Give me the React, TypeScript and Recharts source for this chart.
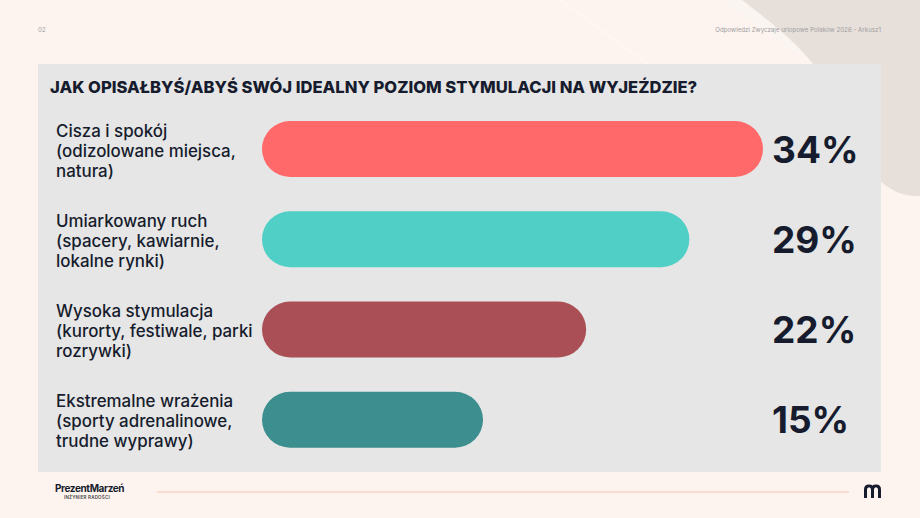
import React from "react";
import { BarChart, Bar, XAxis, YAxis, Cell, LabelList } from "recharts";

const categories = ["Cisza i spokój", "Umiarkowany ruch", "Wysoka stymulacja", "Ekstremalne wrażenia"];
const categoryDetails = [
  ["(odizolowane miejsca,", "natura)"],
  ["(spacery, kawiarnie,", "lokalne rynki)"],
  ["(kurorty, festiwale, parki", "rozrywki)"],
  ["(sporty adrenalinowe,", "trudne wyprawy)"],
];
const shares = [34, 29, 22, 15];
const barColors = ["#FF6969", "#4FCFC5", "#AA4F55", "#3C8E8F"];

const title = "JAK OPISAŁBYŚ/ABYŚ SWÓJ IDEALNY POZIOM STYMULACJI NA WYJEŹDZIE?";
const pageNo = "02";
const sourceNote = "Odpowiedzi Zwyczaje urlopowe Polaków 2026 - Arkusz1";

const INK = "#161C2D";
const FONT = "Inter, 'Noto Sans', sans-serif";

if (typeof document !== "undefined") document.body.style.margin = "0";

const data = categories.map((name, i) => ({ name, value: shares[i], idx: i }));

function CategoryTick(props: any) {
  const { y, payload } = props;
  const idx = categories.indexOf(payload.value);
  const lines = [payload.value, ...(categoryDetails[idx] || [])];
  return (
    <text x={56} y={y} fill={INK} fontFamily={FONT} fontSize={16.9} fontWeight={500}>
      {lines.map((line, i) => (
        <tspan key={i} x={56} y={y + (i - 1) * 20 + 1.5} dominantBaseline="central">
          {line}
        </tspan>
      ))}
    </text>
  );
}

function ShareLabel(props: any) {
  const { y, height, value } = props;
  return (
    <text
      x={772}
      y={y + height / 2}
      dominantBaseline="central"
      fill={INK}
      fontFamily={FONT}
      fontSize={37}
      fontWeight={700}
    >
      {value}%
    </text>
  );
}

export default function App() {
  return (
    <div style={{ position: "relative", width: 920, height: 518, background: "#FDF3EF", overflow: "hidden", fontFamily: FONT }}>
      <svg width={920} height={518} style={{ position: "absolute", left: 0, top: 0 }}>
        <path d="M560,0 L648,64" stroke="#FEF7F4" strokeWidth={2} fill="none" />
        <path d="M722,0 C760,28 790,50 815,64 L920,64 L920,0 Z" fill="#FBF5F2" />
        <path
          d="M742,0 C775,25 800,45 822,75 C848,115 862,165 885,185 C898,195 910,196 920,196 L920,0 Z"
          fill="#E7DFDA"
        />
        <line x1={157} y1={492} x2={849} y2={492} stroke="#F7D3C8" strokeWidth={1.5} />
      </svg>

      <div style={{ position: "absolute", left: 38, top: 26, fontSize: 6.2, color: "#A0A0A0" }}>{pageNo}</div>
      <div style={{ position: "absolute", right: 39, top: 26, fontSize: 6.2, color: "#A0A0A0" }}>{sourceNote}</div>

      <div style={{ position: "absolute", left: 38, top: 64, width: 843, height: 408, background: "#E6E6E6" }} />
      <div
        style={{
          position: "absolute",
          left: 50,
          top: 77,
          fontSize: 16.6,
          fontWeight: 800,
          color: INK,
          lineHeight: "20px",
          whiteSpace: "nowrap",
        }}
      >
        {title}
      </div>

      <div style={{ position: "absolute", left: 0, top: 0 }}>
        <BarChart
          width={920}
          height={518}
          data={data}
          layout="vertical"
          margin={{ top: 104, right: 157, bottom: 53, left: 0 }}
          barCategoryGap={0}
        >
          <XAxis type="number" domain={[0, 34]} hide />
          <YAxis
            type="category"
            dataKey="name"
            width={262}
            axisLine={false}
            tickLine={false}
            tick={<CategoryTick />}
            interval={0}
          />
          <Bar dataKey="value" barSize={56} radius={28} isAnimationActive={false}>
            {data.map((d) => (
              <Cell key={d.name} fill={barColors[d.idx]} />
            ))}
            <LabelList dataKey="value" content={<ShareLabel />} />
          </Bar>
        </BarChart>
      </div>

      <div style={{ position: "absolute", left: 55, top: 482, fontSize: 10, fontWeight: 700, color: INK, letterSpacing: -0.4 }}>
        PrezentMarzeń
      </div>
      <div style={{ position: "absolute", left: 64, top: 495, fontSize: 4.5, fontWeight: 600, color: "#444", letterSpacing: 0.2 }}>
        INŻYNIER RADOŚCI
      </div>
      <svg width={920} height={518} style={{ position: "absolute", left: 0, top: 0, pointerEvents: "none" }}>
        <path
          d="M865.5,498 L865.5,489.5 Q865.5,486 869,486 Q872.5,486 872.5,489.5 L872.5,498 M872.5,489.5 Q872.5,486 876,486 Q879.5,486 879.5,489.5 L879.5,498"
          stroke={INK}
          strokeWidth={3}
          fill="none"
        />
        <circle cx={869} cy={488.5} r={0.9} fill="#FFFFFF" />
        <circle cx={876} cy={488.5} r={0.9} fill="#FFFFFF" />
      </svg>
    </div>
  );
}
